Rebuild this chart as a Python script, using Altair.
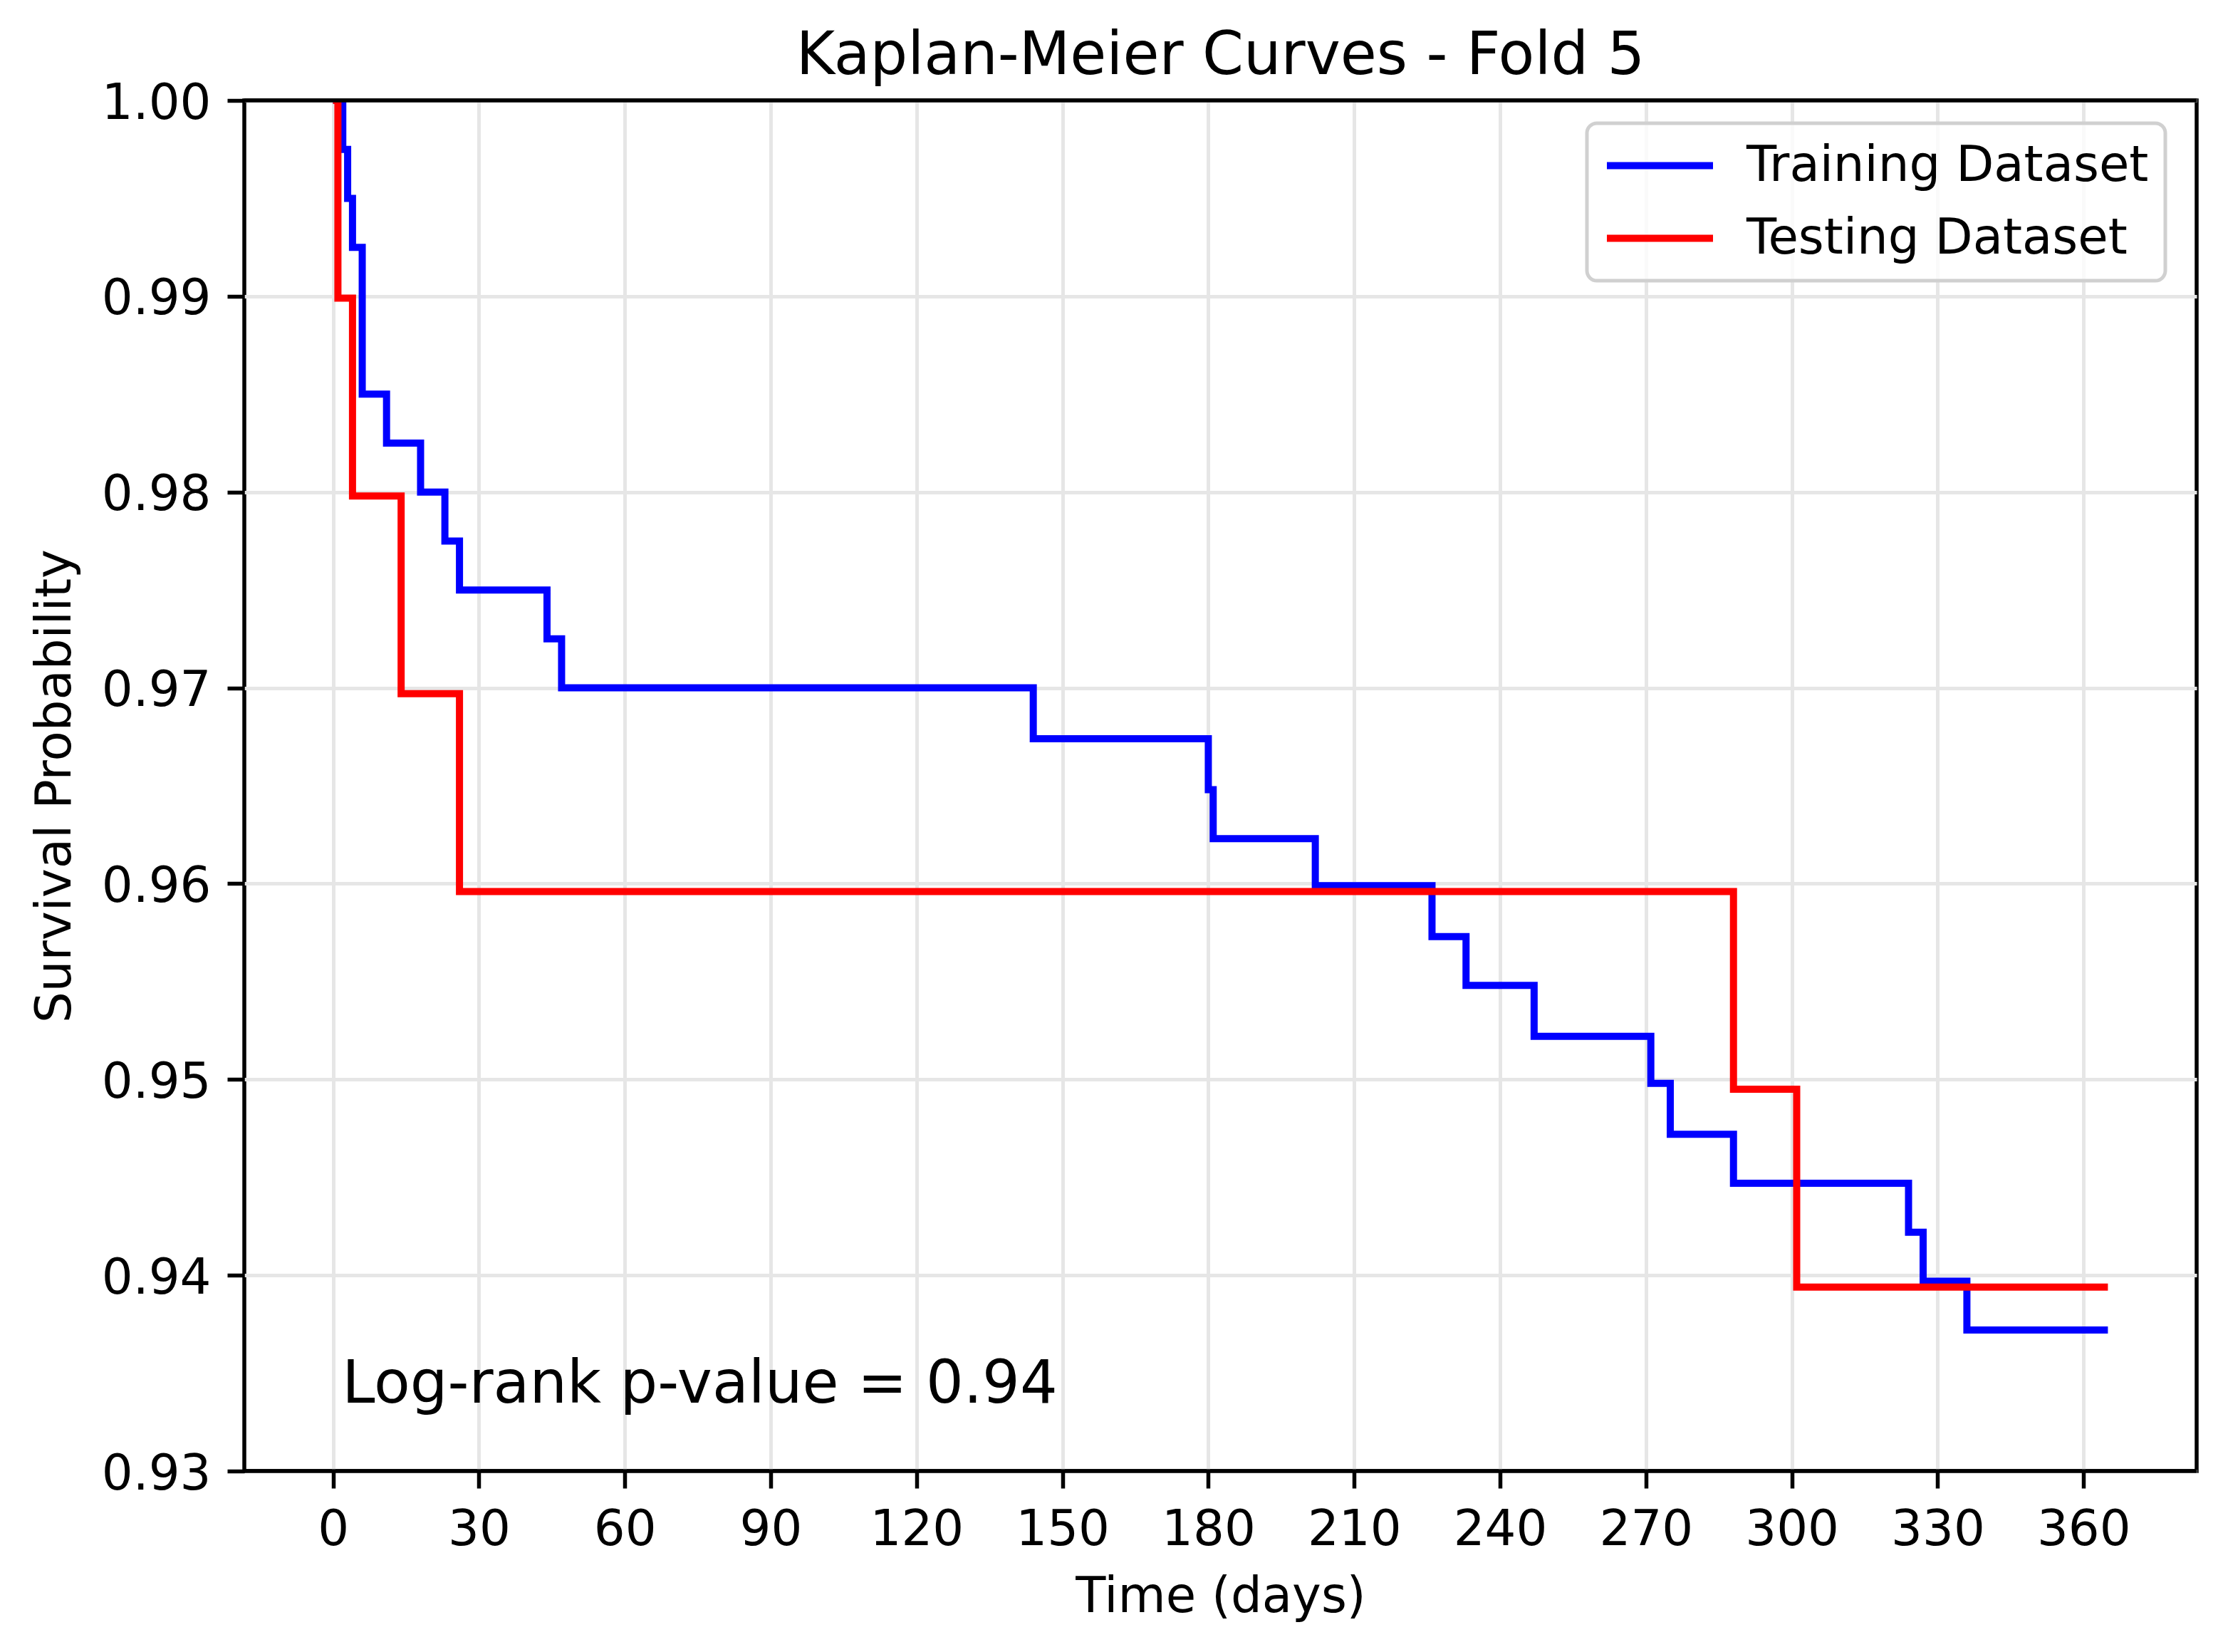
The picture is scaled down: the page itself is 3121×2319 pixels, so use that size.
import altair as alt
import pandas as pd

# Kaplan-Meier step values
train_days = [0, 2, 3, 4, 6, 11, 18, 23, 26, 44, 47, 144, 180, 181, 202, 226,
              233, 247, 271, 275, 288, 324, 327, 336, 365]
train_surv = [1.0, 0.9975, 0.995, 0.9925, 0.985, 0.9825, 0.98, 0.9775, 0.975,
              0.9725, 0.97, 0.9674, 0.9648, 0.9623, 0.9599, 0.9573, 0.9548,
              0.9522, 0.9498, 0.9472, 0.9447, 0.9422, 0.9397, 0.9372, 0.9372]

test_days = [0, 1, 4, 14, 26, 288, 301, 365]
test_surv = [1.0, 0.9899, 0.9798, 0.9697, 0.9596, 0.9495, 0.9394, 0.9394]

series_names = ["Training Dataset", "Testing Dataset"]
series_colors = ["#0000ff", "#ff0000"]

x_ticks = list(range(0, 361, 30))
y_ticks = [0.93, 0.94, 0.95, 0.96, 0.97, 0.98, 0.99, 1.00]
y_limits = [0.93, 1.00]

pvalue_text = "Log-rank p-value = 0.94"

train = pd.DataFrame({"time": train_days, "surv": train_surv, "set": series_names[0]})
test = pd.DataFrame({"time": test_days, "surv": test_surv, "set": series_names[1]})
note = pd.DataFrame({"time": [1.85], "surv": [0.9335], "label": [pvalue_text]})
spines = pd.DataFrame({"surv": y_limits})

FONT = "DejaVu Sans"

x_enc = alt.X(
    "time:Q",
    scale=alt.Scale(domain=[-18.25, 383.25], nice=False, zero=False),
    axis=alt.Axis(
        title="Time (days)",
        values=x_ticks,
        labelBaseline="alphabetic",
        labelPadding=79,
        labelFlush=False,
        labelOverlap=False,
        titleBaseline="alphabetic",
        titleY=197,
    ),
)
y_enc = alt.Y(
    "surv:Q",
    scale=alt.Scale(domain=y_limits, nice=False, zero=False),
    axis=alt.Axis(
        title="Survival Probability",
        values=y_ticks,
        format=".2f",
        labelBaseline="alphabetic",
        labelOffset=25,
        labelPadding=23,
        labelFlush=False,
        labelOverlap=False,
        titleBaseline="alphabetic",
        titleAngle=270,
        titleX=-245,
        titleY=962,
    ),
)
color_enc = alt.Color(
    "set:N",
    scale=alt.Scale(domain=series_names, range=series_colors),
    legend=alt.Legend(title=None),
)

train_line = (
    alt.Chart(train)
    .mark_line(interpolate="step-after", strokeWidth=10, clip=True)
    .encode(x=x_enc, y=y_enc, color=color_enc)
)
test_line = (
    alt.Chart(test)
    .mark_line(interpolate="step-after", strokeWidth=10, clip=True)
    .encode(x=x_enc, y=y_enc, color=color_enc)
)
note_text = (
    alt.Chart(note)
    .mark_text(align="left", baseline="alphabetic", fontSize=83, font=FONT, color="black")
    .encode(x="time:Q", y="surv:Q", text="label:N")
)
# top and bottom spines drawn over the gridlines
spine_rules = (
    alt.Chart(spines)
    .mark_rule(color="black", strokeWidth=5.5)
    .encode(y="surv:Q")
)

chart = (
    alt.layer(train_line, test_line, note_text, spine_rules)
    .properties(
        width=2741,
        height=1924,
        title=alt.TitleParams(
            "Kaplan-Meier Curves - Fold 5",
            fontSize=83,
            font=FONT,
            fontWeight="normal",
            color="black",
            anchor="middle",
            frame="group",
            baseline="alphabetic",
            offset=12,
            dy=88,
        ),
        autosize=alt.AutoSizeParams(type="none"),
        padding={"left": 335, "top": 133, "right": 29, "bottom": 240},
    )
    .configure(font=FONT)
    .configure_view(stroke="black", strokeWidth=5.5)
    .configure_axis(
        domain=False,
        labelFont=FONT,
        labelFontSize=69,
        labelColor="black",
        tickColor="black",
        tickWidth=5.5,
        tickSize=24,
        gridColor="#e6e6e6",
        gridWidth=5,
        titleFont=FONT,
        titleFontSize=69,
        titleFontWeight="normal",
        titleColor="black",
    )
    .configure_legend(
        orient="none",
        legendX=1885,
        legendY=32,
        padding=23,
        labelFont=FONT,
        labelFontSize=69,
        labelColor="black",
        labelLimit=0,
        labelOffset=42,
        symbolType="stroke",
        symbolSize=22201,
        symbolStrokeWidth=10,
        clipHeight=73,
        rowPadding=29,
        strokeColor="#d0d0d0",
        strokeWidth=5,
        fillColor="rgba(255,255,255,0.8)",
        cornerRadius=14,
    )
)

chart.save("out.html", embed_options={"renderer": "svg", "actions": False})
